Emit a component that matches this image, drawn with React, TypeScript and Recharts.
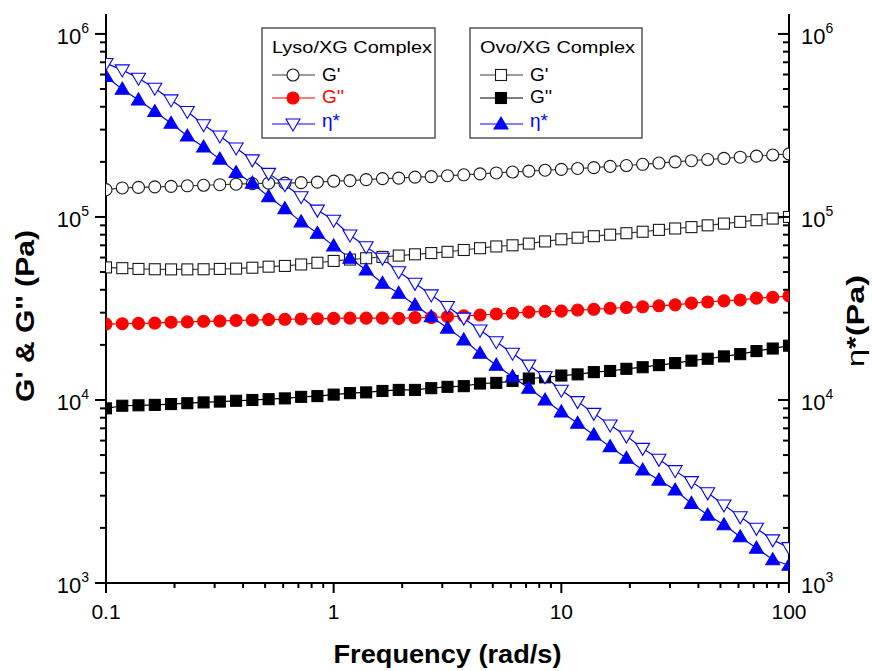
import React from 'react';
import { ComposedChart, Line, XAxis, YAxis, Legend, Label } from 'recharts';

// angular frequency (rad/s), 14 points per decade
const FREQ = [
  0.1, 0.1179, 0.1389, 0.1638, 0.1931, 0.2276, 0.2683, 0.3162, 0.3728, 0.4394,
  0.5179, 0.6105, 0.7197, 0.8483, 1, 1.179, 1.389, 1.638, 1.931, 2.276,
  2.683, 3.162, 3.728, 4.394, 5.179, 6.105, 7.197, 8.483, 10, 11.79,
  13.89, 16.38, 19.31, 22.76, 26.83, 31.62, 37.28, 43.94, 51.79, 61.05,
  71.97, 84.83, 100,
];

// Lyso/XG complex
const LYSO_G1 = [
  141000, 144000, 145000, 146000, 147000, 148000, 149000, 150000, 151000, 152000,
  153000, 153000, 154000, 155000, 157000, 158000, 160000, 162000, 163000, 165000,
  166000, 168000, 170000, 172000, 174000, 176000, 178000, 180000, 182000, 184000,
  186000, 189000, 191000, 194000, 197000, 200000, 203000, 206000, 209000, 212000,
  215000, 218000, 221000,
];
const LYSO_G2 = [
  26000, 26100, 26200, 26300, 26600, 26700, 26900, 27000, 27200, 27300,
  27500, 27600, 27700, 27800, 27900, 28000, 28000, 28000, 27900, 28200,
  28200, 28500, 28800, 29100, 29500, 29800, 30200, 30500, 30600, 31000,
  31300, 31700, 32000, 32300, 32700, 33100, 33800, 34300, 34800, 35200,
  36000, 36400, 37000,
];
const LYSO_ETA = [
  690000, 636000, 573000, 505000, 436000, 377000, 319000, 277000, 238000, 205000,
  173000, 150000, 129000, 109000, 96000, 79700, 68800, 59500, 50200, 43400,
  37500, 32400, 28000, 24100, 20800, 18000, 15500, 13400, 11300, 9800,
  8450, 7300, 6350, 5440, 4740, 4110, 3580, 3110, 2670, 2300,
  1990, 1720, 1560,
];

// Ovo/XG complex
const OVO_G1 = [
  53000, 52500, 52000, 51800, 51700, 51700, 51800, 52000, 52200, 52800,
  53500, 54000, 55000, 56200, 57500, 58500, 59500, 60500, 61500, 62500,
  63500, 64500, 66000, 67500, 69000, 70000, 71500, 73500, 75500, 77000,
  78500, 80000, 81500, 83000, 85000, 86500, 88000, 90000, 92000, 94000,
  96000, 98000, 100000,
];
const OVO_G2 = [
  9000, 9300, 9350, 9400, 9500, 9600, 9700, 9800, 9900, 10000,
  10100, 10200, 10400, 10500, 10700, 10900, 11000, 11200, 11350, 11350,
  11600, 11800, 11900, 12300, 12400, 12700, 13100, 13300, 13600, 13800,
  14200, 14400, 14800, 15100, 15500, 15900, 16400, 16800, 17300, 17800,
  18500, 19100, 19800,
];
const OVO_ETA = [
  585000, 499000, 436000, 377000, 325000, 277000, 241000, 207000, 175000, 153000,
  129000, 111000, 94000, 81400, 69500, 59500, 51300, 43400, 38300, 33000,
  28500, 24700, 21300, 18000, 15500, 13400, 11600, 10000, 8600, 7460,
  6440, 5560, 4800, 4140, 3650, 3220, 2720, 2350, 2080, 1790,
  1550, 1340, 1250,
];

const X_TICKS = [
  0.1, 0.2, 0.3, 0.4, 0.5, 0.6, 0.7, 0.8, 0.9,
  1, 2, 3, 4, 5, 6, 7, 8, 9,
  10, 20, 30, 40, 50, 60, 70, 80, 90, 100,
];
const Y_TICKS = [
  1000, 2000, 3000, 4000, 5000, 6000, 7000, 8000, 9000,
  10000, 20000, 30000, 40000, 50000, 60000, 70000, 80000, 90000,
  100000, 200000, 300000, 400000, 500000, 600000, 700000, 800000, 900000,
  1000000,
];
const X_DOMAIN = [0.1, 100];
const Y_DOMAIN = [1000, 1285000];

const data = FREQ.map((f, i) => ({
  f,
  lysoG1: LYSO_G1[i],
  lysoG2: LYSO_G2[i],
  lysoEta: LYSO_ETA[i],
  ovoG1: OVO_G1[i],
  ovoG2: OVO_G2[i],
  ovoEta: OVO_ETA[i],
}));

const FONT = '"Liberation Sans", Arial, Helvetica, sans-serif';
const W = 872;
const H = 671;
const PLOT = { left: 106, right: 789, top: 14, bottom: 583 };

type Kind = 'circle' | 'square' | 'down' | 'up';

const SERIES = [
  { key: 'lysoG1', label: "G'", kind: 'circle' as Kind, line: '#3a3a3a', stroke: '#1a1a1a', fill: '#fff', text: '#000', axis: 'left' },
  { key: 'ovoG1', label: "G'", kind: 'square' as Kind, line: '#3a3a3a', stroke: '#1a1a1a', fill: '#fff', text: '#000', axis: 'left' },
  { key: 'lysoG2', label: "G''", kind: 'circle' as Kind, line: '#ff0000', stroke: '#ff0000', fill: '#ff0000', text: '#ff0000', axis: 'left' },
  { key: 'ovoG2', label: "G''", kind: 'square' as Kind, line: '#000', stroke: '#000', fill: '#000', text: '#000', axis: 'left' },
  { key: 'ovoEta', label: 'η*', kind: 'up' as Kind, line: '#0000ff', stroke: '#0000ff', fill: '#0000ff', text: '#0000ff', axis: 'right' },
  { key: 'lysoEta', label: 'η*', kind: 'down' as Kind, line: '#0000ff', stroke: '#0000ff', fill: '#fff', text: '#0000ff', axis: 'right' },
];

const byKey = (k: string) => SERIES.find((s) => s.key === k)!;

const Marker = ({ kind, x, y, fill, stroke }: { kind: Kind; x: number; y: number; fill: string; stroke: string }) => {
  if (kind === 'circle') return <circle cx={x} cy={y} r={6} fill={fill} stroke={stroke} strokeWidth={1.1} />;
  if (kind === 'square') return <rect x={x - 5.5} y={y - 5.5} width={11} height={11} fill={fill} stroke={stroke} strokeWidth={1.1} />;
  if (kind === 'down')
    return <polygon points={`${x - 7},${y - 5} ${x + 7},${y - 5} ${x},${y + 7}`} fill={fill} stroke={stroke} strokeWidth={1.1} />;
  return <polygon points={`${x - 7},${y + 5} ${x + 7},${y + 5} ${x},${y - 7}`} fill={fill} stroke={stroke} strokeWidth={1.1} />;
};

const isMajor = (v: number) => Math.abs(Math.log10(v) - Math.round(Math.log10(v))) < 1e-9;

const XTick = (props: any) => {
  const { x, payload } = props;
  const major = isMajor(payload.value);
  return (
    <g>
      <line x1={x} x2={x} y1={PLOT.bottom} y2={PLOT.bottom + (major ? 10 : 5)} stroke="#000" strokeWidth={2} />
      {major && (
        <text x={x} y={619} textAnchor="middle" fontSize={21} fontFamily={FONT} fill="#000">
          {String(payload.value)}
        </text>
      )}
    </g>
  );
};

const PowerLabel = ({ x, y, anchor, value }: { x: number; y: number; anchor: 'start' | 'end'; value: number }) => (
  <text x={x} y={y + 10} textAnchor={anchor} fontSize={22} fontFamily={FONT} fill="#000">
    <tspan>10</tspan>
    <tspan dy={-11} fontSize={14}>{Math.round(Math.log10(value))}</tspan>
  </text>
);

const YTickLeft = (props: any) => {
  const { y, payload } = props;
  const major = isMajor(payload.value);
  return (
    <g>
      <line x1={PLOT.left - (major ? 11 : 6)} x2={PLOT.left} y1={y} y2={y} stroke="#000" strokeWidth={2} />
      {major && <PowerLabel x={89} y={y} anchor="end" value={payload.value} />}
    </g>
  );
};

const YTickRight = (props: any) => {
  const { y, payload } = props;
  const major = isMajor(payload.value);
  return (
    <g>
      <line x1={PLOT.right - (major ? 11 : 6)} x2={PLOT.right} y1={y} y2={y} stroke="#000" strokeWidth={2} />
      {major && <PowerLabel x={801} y={y} anchor="start" value={payload.value} />}
    </g>
  );
};

// legend boxes, coordinates relative to the legend wrapper
const LEGEND_GROUPS = [
  { title: 'Lyso/XG Complex', x: 4, w: 173, titleLen: 160, keys: ['lysoG1', 'lysoG2', 'lysoEta'] },
  { title: 'Ovo/XG Complex', x: 212, w: 172, titleLen: 155, keys: ['ovoG1', 'ovoG2', 'ovoEta'] },
];
const ROW_Y = [49, 72, 98];
const ROW_BASE = [55, 77, 101];

const LegendBoxes = () => (
  <svg width={390} height={116} style={{ display: 'block', overflow: 'visible' }}>
    {LEGEND_GROUPS.map((g) => (
      <g key={g.title}>
        <rect x={g.x} y={2} width={g.w} height={110} fill="#fff" stroke="#555" strokeWidth={1.5} />
        <text x={g.x + 10} y={27} fontSize={17} fontFamily={FONT} fill="#000" textLength={g.titleLen} lengthAdjust="spacingAndGlyphs">
          {g.title}
        </text>
        {g.keys.map((k, r) => {
          const s = byKey(k);
          return (
            <g key={k}>
              <line x1={g.x + 10} x2={g.x + 53} y1={ROW_Y[r]} y2={ROW_Y[r]} stroke={s.line} strokeWidth={1.2} />
              <Marker kind={s.kind} x={g.x + 31} y={ROW_Y[r]} fill={s.fill} stroke={s.stroke} />
              <text x={g.x + 60} y={ROW_BASE[r]} fontSize={19} fontFamily={FONT} fill={s.text}>
                {s.label}
              </text>
            </g>
          );
        })}
      </g>
    ))}
  </svg>
);

const App: React.FC = () => {
  return (
    <div style={{ position: 'absolute', left: 0, top: 0, width: W, height: H, background: '#fff' }}>
      <ComposedChart
        width={W}
        height={H}
        data={data}
        margin={{ top: PLOT.top, right: W - PLOT.right - 60, bottom: H - PLOT.bottom - 40, left: PLOT.left - 60 }}
      >
        <XAxis
          dataKey="f"
          type="number"
          scale="log"
          domain={X_DOMAIN}
          ticks={X_TICKS}
          interval={0}
          height={40}
          allowDataOverflow
          tickLine={false}
          tick={XTick}
          axisLine={{ stroke: '#000', strokeWidth: 2 }}
        >
          <Label
            content={(p: any) => (
              <text
                x={p.viewBox.x + p.viewBox.width / 2}
                y={663}
                textAnchor="middle"
                fontSize={26}
                fontWeight="bold"
                fontFamily={FONT}
                fill="#000"
                textLength={228}
                lengthAdjust="spacingAndGlyphs"
              >
                Frequency (rad/s)
              </text>
            )}
          />
        </XAxis>
        <XAxis
          xAxisId="top"
          orientation="top"
          dataKey="f"
          type="number"
          scale="log"
          domain={X_DOMAIN}
          height={0}
          tick={false}
          tickLine={false}
          axisLine={{ stroke: '#000', strokeWidth: 2 }}
        />
        <YAxis
          yAxisId="left"
          type="number"
          scale="log"
          domain={Y_DOMAIN}
          ticks={Y_TICKS}
          interval={0}
          width={60}
          allowDataOverflow
          tickLine={false}
          tick={YTickLeft}
          axisLine={{ stroke: '#000', strokeWidth: 2 }}
        >
          <Label
            content={() => (
              <text
                transform="translate(34,316) rotate(-90)"
                textAnchor="middle"
                fontSize={25}
                fontWeight="bold"
                fontFamily={FONT}
                fill="#000"
                textLength={172}
                lengthAdjust="spacingAndGlyphs"
              >
                G' &amp; G'' (Pa)
              </text>
            )}
          />
        </YAxis>
        <YAxis
          yAxisId="right"
          orientation="right"
          type="number"
          scale="log"
          domain={Y_DOMAIN}
          ticks={Y_TICKS}
          interval={0}
          width={60}
          allowDataOverflow
          tickLine={false}
          tick={YTickRight}
          axisLine={{ stroke: '#000', strokeWidth: 2 }}
        >
          <Label
            content={() => (
              <text
                transform="translate(864,321) rotate(-90)"
                textAnchor="middle"
                fontSize={24}
                fontFamily={FONT}
                fill="#000"
                textLength={92}
                lengthAdjust="spacingAndGlyphs"
              >
                <tspan>η</tspan>
                <tspan fontWeight="bold">*(Pa)</tspan>
              </text>
            )}
          />
        </YAxis>
        <Legend
          content={() => <LegendBoxes />}
          layout="horizontal"
          verticalAlign="middle"
          align="center"
          wrapperStyle={{ left: 258, top: 26, width: 390, height: 116 }}
        />
        {SERIES.map((s) => (
          <Line
            key={s.key}
            yAxisId={s.axis}
            dataKey={s.key}
            type="linear"
            stroke={s.line}
            strokeWidth={1.2}
            isAnimationActive={false}
            activeDot={false}
            dot={(p: any) => <Marker key={`${s.key}-${p.index}`} kind={s.kind} x={p.cx} y={p.cy} fill={s.fill} stroke={s.stroke} />}
          />
        ))}
      </ComposedChart>
    </div>
  );
};

export default App;
